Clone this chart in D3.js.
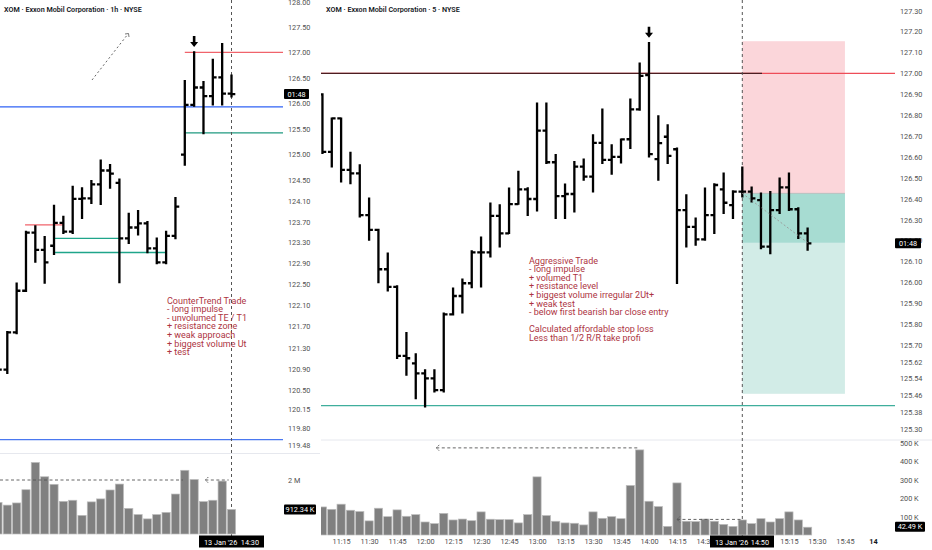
<!DOCTYPE html>
<html>
<head>
<meta charset="utf-8">
<script src="https://cdn.jsdelivr.net/npm/d3@7"></script>
<style>
  body { margin: 0; background: #fff; }
  text { font-family: Roboto, "Liberation Sans", sans-serif; }
</style>
</head>
<body>
<div id="chart"></div>
<script>
// ---- left pane: XOM 1h ----
var leftTimes = ["8 10:30", "8 11:30", "8 12:30", "8 13:30", "8 14:30", "8 15:30",
  "9 09:30", "9 10:30", "9 11:30", "9 12:30", "9 13:30", "9 14:30", "9 15:30",
  "12 09:30", "12 10:30", "12 11:30", "12 12:30", "12 13:30", "12 14:30", "12 15:30",
  "13 09:30", "13 10:30", "13 11:30", "13 12:30", "13 13:30", "13 14:30"];
var leftOpen = [120.69, 120.89, 121.59, 122.38, 123.49, 123.16, 123.24, 123.68, 123.51, 124.14, 124.15, 124.42, 124.69,
  124.45, 123.38, 123.59, 123.67, 123.19, 122.92, 123.43, 125.00, 125.97, 126.31, 126.14, 126.51, 126.19];
var leftHigh = [120.96, 121.60, 122.52, 123.51, 123.62, 123.41, 124.01, 123.80, 124.38, 124.35, 124.49, 124.89, 124.80,
  124.52, 123.86, 123.91, 123.70, 123.38, 123.51, 124.16, 126.44, 127.01, 126.42, 126.86, 127.17, 126.55];
var leftLow = [120.60, 120.82, 121.57, 122.37, 122.93, 122.53, 123.08, 123.48, 123.48, 123.77, 124.06, 124.04, 124.35,
  122.54, 123.29, 123.45, 123.11, 122.90, 122.90, 123.38, 124.80, 125.95, 125.41, 125.97, 125.97, 126.13];
var leftClose = [120.89, 121.59, 122.38, 123.49, 123.16, 122.92, 123.68, 123.51, 124.14, 124.15, 124.42, 124.69, 124.63,
  123.38, 123.59, 123.67, 123.19, 122.92, 123.43, 123.99, 125.97, 126.31, 126.14, 126.51, 126.19, 126.18];
// volume in millions
var leftVolume = [1.17, 1.07, 1.15, 1.64, 2.65, 2.12, 1.84, 1.21, 1.25, 0.69, 1.19, 1.30, 1.63,
  1.85, 0.95, 0.72, 0.56, 0.72, 0.80, 1.48, 2.36, 2.02, 1.20, 1.25, 1.96, 0.91];
var leftPriceTicks = [128, 127.5, 127, 126.5, 126, 125.5, 125, 124.5, 124.1, 123.7, 123.3, 122.9,
  122.5, 122.1, 121.7, 121.3, 120.9, 120.5, 120.15, 119.8, 119.48];
var leftTimeIdx = [2, 6, 9, 13, 16, 20, 23, 30];
var leftTimeLabels = ["12:30", "9", "12:30", "12", "12:30", "13", "12:30", "12:30"];

// ---- right pane: XOM 5m ----
var rightTimes = ["11:05", "11:10", "11:15", "11:20", "11:25", "11:30", "11:35", "11:40", "11:45", "11:50", "11:55",
  "12:00", "12:05", "12:10", "12:15", "12:20", "12:25", "12:30", "12:35", "12:40", "12:45", "12:50", "12:55",
  "13:00", "13:05", "13:10", "13:15", "13:20", "13:25", "13:30", "13:35", "13:40", "13:45", "13:50", "13:55",
  "14:00", "14:05", "14:10", "14:15", "14:20", "14:25", "14:30", "14:35", "14:40", "14:45", "14:50", "14:55",
  "15:00", "15:05", "15:10", "15:15", "15:20", "15:25"];
var rightOpen = [126.90, 126.625, 126.785, 126.538, 126.522, 126.322, 126.251, 126.063, 125.979, 125.648, 125.613,
  125.565, 125.541, 125.485, 125.847, 125.935, 125.996, 126.144, 126.144, 126.318, 126.235, 126.375, 126.445,
  126.399, 126.726, 126.575, 126.413, 126.423, 126.554, 126.506, 126.668, 126.586, 126.601, 126.685, 126.828,
  126.992, 126.590, 126.697, 126.637, 126.346, 126.266, 126.206, 126.322, 126.445, 126.370, 126.434, 126.434,
  126.394, 126.171, 126.346, 126.455, 126.350, 126.235];
var rightHigh = [126.901, 126.785, 126.785, 126.621, 126.562, 126.402, 126.253, 126.139, 125.983, 125.759, 125.657,
  125.581, 125.581, 125.852, 125.972, 126.015, 126.150, 126.216, 126.378, 126.370, 126.450, 126.530, 126.452,
  126.857, 126.857, 126.610, 126.469, 126.577, 126.589, 126.705, 126.828, 126.657, 126.685, 126.876, 127.048,
  127.147, 126.796, 126.753, 126.642, 126.418, 126.307, 126.450, 126.471, 126.522, 126.437, 126.551, 126.455,
  126.426, 126.434, 126.498, 126.522, 126.356, 126.259];
var rightLow = [126.618, 126.554, 126.482, 126.474, 126.314, 126.203, 126.000, 125.960, 125.637, 125.557, 125.445,
  125.405, 125.477, 125.477, 125.845, 125.855, 125.976, 125.979, 126.123, 126.171, 126.235, 126.375, 126.322,
  126.343, 126.570, 126.307, 126.307, 126.338, 126.490, 126.434, 126.570, 126.519, 126.573, 126.642, 126.825,
  126.601, 126.490, 126.570, 125.996, 126.171, 126.179, 126.203, 126.235, 126.331, 126.307, 126.410, 126.386,
  126.163, 126.139, 126.331, 126.346, 126.211, 126.155];
var rightClose = [126.625, 126.785, 126.538, 126.522, 126.322, 126.251, 126.063, 125.979, 125.648, 125.637, 125.565,
  125.541, 125.485, 125.847, 125.935, 125.996, 126.144, 126.144, 126.318, 126.235, 126.375, 126.445, 126.399,
  126.726, 126.575, 126.413, 126.423, 126.554, 126.506, 126.668, 126.586, 126.601, 126.684, 126.828, 126.988,
  126.614, 126.666, 126.605, 126.346, 126.266, 126.206, 126.322, 126.466, 126.381, 126.434, 126.434, 126.402,
  126.171, 126.346, 126.455, 126.350, 126.235, 126.187];
// volume in thousands
var rightVolume = [153, 140, 168, 135, 128, 77, 146, 100, 137, 102, 111, 71, 62, 118, 82, 87, 78, 126, 86, 84,
  84, 66, 111, 317, 106, 75, 66, 64, 55, 126, 91, 100, 89, 270, 464, 184, 155, 47, 284, 75,
  73, 87, 75, 58, 47, 82, 62, 89, 71, 89, 126, 82, 42.49];
var rightPriceTicks = [127.3, 127.2, 127.1, 127, 126.9, 126.8, 126.7, 126.6, 126.5, 126.4, 126.3, 126.2, 126.1,
  126, 125.9, 125.8, 125.7, 125.62, 125.54, 125.46, 125.38, 125.3];
var rightVolTicks = [100, 200, 300, 400, 500];
var rightTimeIdx = [2, 5, 8, 11, 14, 17, 20, 23, 26, 29, 32, 35, 38, 41, 44, 47, 50, 53, 56, 59];
var rightTimeLabels = ["11:15", "11:30", "11:45", "12:00", "12:15", "12:30", "12:45", "13:00", "13:15", "13:30",
  "13:45", "14:00", "14:15", "14:30", "14:45", "15:00", "15:15", "15:30", "15:45", "14"];

var leftNotes = ["CounterTrend Trade", "- long impulse", "- unvolumed TE / T1", "+ resistance zone",
  "+ weak approach", "+ biggest volume Ut", "+ test"];
var rightNotes = ["Aggressive Trade", "- long impulse", "+ volumed T1", "+ resistance level",
  "+ biggest volume irregular 2Ut+", "+ weak test", "- below first bearish bar close entry", "",
  "Calculated affordable stop loss", "Less than 1/2 R/R take profi"];

var svg = d3.select("#chart").append("svg")
  .attr("width", 932)
  .attr("height", 550);

var defs = svg.append("defs");
function clip(id, x, y, w, h) {
  defs.append("clipPath").attr("id", id)
    .append("rect").attr("x", x).attr("y", y).attr("width", w).attr("height", h);
}
clip("cl-price", 0, 0, 283, 453);
clip("cl-vol", 0, 454, 283, 82);
clip("cl-time", 0, 535, 283, 15);
clip("cr-price", 321, 0, 574, 440);
clip("cr-vol", 321, 441, 574, 95);

// scales
var xL = d3.scaleLinear().domain([0, 25]).range([-2.04, 231.5]);
var yL = d3.scaleLog().domain([128, 119.48]).range([2, 445]);
var vL = d3.scaleLinear().domain([0, 2]).range([534, 480]);

var xR = d3.scaleLinear().domain([0, 45]).range([322.45, 742.3]);
var yR = d3.scaleLinear().domain([127.3, 125.3]).range([10.7, 428.7]);
var vR = d3.scaleLinear().domain([0, 500]).range([535, 443.3]);

// separators
svg.append("line").attr("x1", 0).attr("x2", 320).attr("y1", 453.5).attr("y2", 453.5)
  .attr("stroke", "#e6e8ee");
svg.append("line").attr("x1", 321).attr("x2", 932).attr("y1", 440).attr("y2", 440)
  .attr("stroke", "#e6e8ee");

// ---------- right pane backgrounds (risk / reward box) ----------
var boxG = svg.append("g").attr("clip-path", "url(#cr-price)");
var entry = 126.426, stop = 127.154, target = 125.467, last = 126.19;
boxG.append("rect").attr("x", xR(45)).attr("width", xR(56) - xR(45))
  .attr("y", yR(stop)).attr("height", yR(entry) - yR(stop)).attr("fill", "#fbd6da");
boxG.append("rect").attr("x", xR(45)).attr("width", xR(56) - xR(45))
  .attr("y", yR(entry)).attr("height", yR(target) - yR(entry)).attr("fill", "#d2ece7");
boxG.append("rect").attr("x", xR(45)).attr("width", xR(56) - xR(45))
  .attr("y", yR(entry)).attr("height", yR(last) - yR(entry)).attr("fill", "#a7dcd2");
boxG.append("line").attr("x1", xR(45)).attr("x2", xR(56)).attr("y1", yR(entry)).attr("y2", yR(entry))
  .attr("stroke", "#b9b9b9").attr("stroke-width", 0.8);

// ---------- horizontal levels ----------
var lvlL = svg.append("g").attr("clip-path", "url(#cl-price)");
function levelL(p, j0, j1, color) {
  lvlL.append("line")
    .attr("x1", j0 == null ? 0 : xL(j0)).attr("x2", j1 == null ? 283 : xL(j1))
    .attr("y1", yL(p)).attr("y2", yL(p))
    .attr("stroke", color).attr("stroke-width", 1.3);
}
levelL(127.00, 20, null, "#f0636b");
levelL(125.93, null, null, "#2f62f5");
levelL(125.42, 20, null, "#1f9a80");
levelL(119.58, null, null, "#4a78f0");
levelL(123.64, 2.9, 7, "#f0636b");
levelL(123.38, 5.9, 13, "#1fa58a");
levelL(123.11, 5.9, 18, "#1fa58a");

var lvlR = svg.append("g").attr("clip-path", "url(#cr-price)");
lvlR.append("line").attr("x1", 321).attr("x2", 895).attr("y1", yR(127)).attr("y2", yR(127))
  .attr("stroke", "#ee4d58").attr("stroke-width", 1.3);
lvlR.append("line").attr("x1", 321).attr("x2", 762).attr("y1", yR(127)).attr("y2", yR(127))
  .attr("stroke", "#4b1d21").attr("stroke-width", 1.3);
lvlR.append("line").attr("x1", 321).attr("x2", 895).attr("y1", yR(125.41)).attr("y2", yR(125.41))
  .attr("stroke", "#3fae9c").attr("stroke-width", 1.3);

// ---------- vertical cursor lines ----------
[xL(25), xR(45)].forEach(function(x) {
  svg.append("line").attr("x1", x).attr("x2", x).attr("y1", 0).attr("y2", 537)
    .attr("stroke", "#555").attr("stroke-width", 1).attr("stroke-dasharray", "3,3");
});

// ---------- volume bars ----------
function drawVolume(clipId, vals, x, v, w) {
  svg.append("g").attr("clip-path", "url(#" + clipId + ")")
    .selectAll("rect").data(vals).enter().append("rect")
    .attr("x", function(d, i) { return x(i) - w / 2; })
    .attr("y", function(d) { return v(d); })
    .attr("width", w)
    .attr("height", function(d) { return v(0) - v(d); })
    .attr("fill", "#808080")
    .attr("stroke", "#bdbdbd")
    .attr("stroke-width", 0.7);
}
drawVolume("cl-vol", leftVolume, xL, vL, 8.2);
drawVolume("cr-vol", rightVolume, xR, vR, 8.2);

// dashed volume guides
function dashed(x1, x2, y, bracket) {
  svg.append("line").attr("x1", x1).attr("x2", x2).attr("y1", y).attr("y2", y)
    .attr("stroke", "#555").attr("stroke-width", 0.9).attr("stroke-dasharray", "3,2.5");
  if (bracket) {
    svg.append("path").attr("d", "M" + (x1 + 3) + "," + (y - 3) + " L" + x1 + "," + y + " L" + (x1 + 3) + "," + (y + 3))
      .attr("fill", "none").attr("stroke", "#555").attr("stroke-width", 0.9).attr("stroke-dasharray", "1.5,1");
  }
}
dashed(0, xL(19.8), vL(2), false);
dashed(xL(22.2), xL(24.7), vL(2), true);
dashed(xR(12.2), xR(33.8), vR(475), true);
dashed(xR(38), xR(45), vR(85), true);

// ---------- OHLC bars ----------
function drawOHLC(clipId, x, y, O, H, L, C) {
  svg.append("g").attr("clip-path", "url(#" + clipId + ")")
    .selectAll("path").data(O).enter().append("path")
    .attr("d", function(d, i) {
      var cx = x(i);
      return "M" + cx + "," + (y(H[i]) - 0.8) + "V" + (y(L[i]) + 0.8) +
        "M" + (cx - 3.8) + "," + y(O[i]) + "H" + cx +
        "M" + cx + "," + y(C[i]) + "H" + (cx + 3.8);
    })
    .attr("fill", "none")
    .attr("stroke", "#000")
    .attr("stroke-width", 2.3);
}
drawOHLC("cl-price", xL, yL, leftOpen, leftHigh, leftLow, leftClose);
drawOHLC("cr-price", xR, yR, rightOpen, rightHigh, rightLow, rightClose);

// trend dotted line from the last bar on the 5m chart
svg.append("line").attr("x1", xR(45)).attr("y1", yR(entry)).attr("x2", xR(52)).attr("y2", yR(last))
  .attr("stroke", "#999").attr("stroke-width", 0.9).attr("stroke-dasharray", "2,2");

// dotted arrow on the 1h chart
svg.append("line").attr("x1", 92).attr("y1", 80).attr("x2", 128).attr("y2", 34)
  .attr("stroke", "#555").attr("stroke-width", 0.9).attr("stroke-dasharray", "2,2.5");
svg.append("path").attr("d", "M125,34 L128.5,33.5 L129,37")
  .attr("fill", "none").attr("stroke", "#555").attr("stroke-width", 0.8);

// down arrows above the highs
function downArrow(cx, tip) {
  svg.append("path")
    .attr("d", "M" + (cx - 1.3) + "," + (tip - 11) + "H" + (cx + 1.3) + "V" + (tip - 5) +
      "H" + (cx + 4) + "L" + cx + "," + tip + "L" + (cx - 4) + "," + (tip - 5) + "H" + (cx - 1.3) + "Z")
    .attr("fill", "#000");
}
downArrow(xL(21), yL(leftHigh[21]) - 5);
downArrow(xR(35), yR(rightHigh[35]) - 5);

// ---------- notes ----------
function notes(lines, x, y0) {
  var t = svg.append("text").attr("x", x).attr("y", y0)
    .attr("fill", "#ad3442").style("font-size", "9px");
  lines.forEach(function(s, i) {
    t.append("tspan").attr("x", x).attr("y", y0 + i * 8.6).text(s);
  });
}
notes(leftNotes, 167, 303.5);
notes(rightNotes, 529, 263.5);

// ---------- titles ----------
svg.append("text").attr("x", 4).attr("y", 11.5).text("XOM · Exxon Mobil Corporation · 1h · NYSE")
  .attr("fill", "#131722").style("font-size", "7.2px").style("font-weight", 600);
svg.append("text").attr("x", 326).attr("y", 11.5).text("XOM · Exxon Mobil Corporation · 5 · NYSE")
  .attr("fill", "#131722").style("font-size", "7.2px").style("font-weight", 600);

// ---------- axes ----------
function yAxis(scale, ticks, x, fmt) {
  var g = svg.append("g").attr("transform", "translate(" + x + ",0)")
    .call(d3.axisRight(scale).tickValues(ticks).tickSize(0).tickPadding(0).tickFormat(fmt));
  g.select(".domain").remove();
  g.attr("font-family", "Roboto, sans-serif").attr("font-size", 7.3);
  g.selectAll("text").attr("fill", "#505050");
  return g;
}
yAxis(yL, leftPriceTicks, 288, d3.format(".2f"));
yAxis(vL, [2], 288, function(d) { return d + " M"; });
yAxis(yR, rightPriceTicks, 900, d3.format(".2f"));
yAxis(vR, rightVolTicks, 900, function(d) { return d + " K"; });

function xAxis(scale, idx, labels, clipId, bold) {
  var g = svg.append("g").attr("transform", "translate(0,539)")
    .call(d3.axisBottom(scale).tickValues(idx).tickSize(0).tickPadding(0)
      .tickFormat(function(d, i) { return labels[i]; }));
  g.select(".domain").remove();
  if (clipId) g.attr("clip-path", "url(#" + clipId + ")");
  g.attr("font-family", "Roboto, sans-serif").attr("font-size", 7.3);
  g.selectAll("text").attr("fill", "#505050")
    .style("font-weight", function(d, i) { return bold.indexOf(labels[i]) >= 0 ? 700 : 400; })
    .attr("fill", function(d, i) { return bold.indexOf(labels[i]) >= 0 ? "#131722" : "#505050"; });
}
xAxis(xL, leftTimeIdx, leftTimeLabels, "cl-time", ["12"]);
xAxis(xR, rightTimeIdx, rightTimeLabels, null, ["14"]);

// ---------- black value tags ----------
function tag(x, y, w, label) {
  svg.append("rect").attr("x", x).attr("y", y - 5).attr("width", w).attr("height", 10)
    .attr("rx", 1).attr("fill", "#000");
  svg.append("text").attr("x", x + w / 2).attr("y", y + 2.6).attr("text-anchor", "middle")
    .attr("fill", "#fff").style("font-size", "7.3px").text(label);
}
tag(284, yL(leftClose[25]), 25, "01:48");
tag(895, yR(rightClose[52]), 26, "01:48");
tag(284, vL(leftVolume[25]), 32, "912.34 K");
tag(895, vR(rightVolume[52]) - 0.5, 30, "42.49 K");

function timeTag(x0, x1, date, time) {
  svg.append("rect").attr("x", x0).attr("y", 535.5).attr("width", x1 - x0).attr("height", 12).attr("fill", "#000");
  svg.append("text").attr("x", x0 + 5).attr("y", 544.5).attr("fill", "#fff").style("font-size", "7.3px").text(date);
  svg.append("text").attr("x", x1 - 5).attr("y", 544.5).attr("text-anchor", "end")
    .attr("fill", "#fff").style("font-size", "7.3px").text(time);
}
timeTag(199, 264, "13 Jan '26", "14:30");
timeTag(710, 774, "13 Jan '26", "14:50");
</script>
</body>
</html>
